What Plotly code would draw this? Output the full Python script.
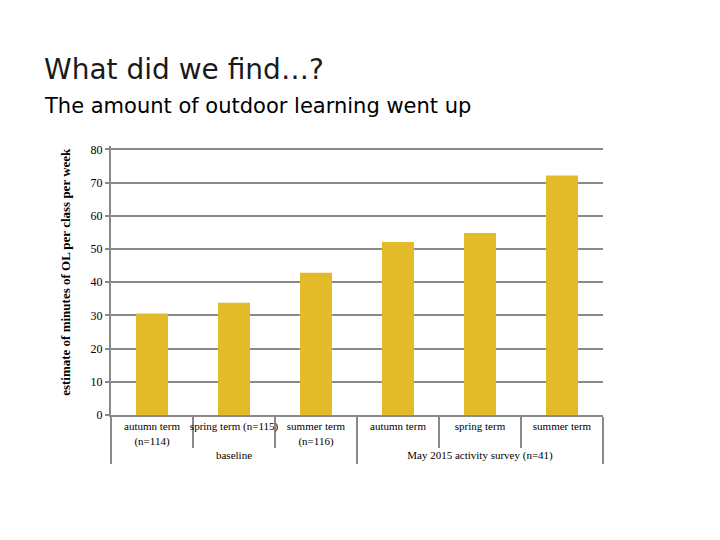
import plotly.graph_objects as go

groups = ["baseline", "baseline", "baseline",
          "May 2015 activity survey (n=41)", "May 2015 activity survey (n=41)", "May 2015 activity survey (n=41)"]
terms = ["autumn term<br>(n=114)", "spring term (n=115)", "summer term<br>(n=116)",
         "autumn term", "spring term", "summer term"]
values = [30.6, 33.8, 42.8, 52.1, 54.8, 72.1]
y_ticks = [0, 10, 20, 30, 40, 50, 60, 70, 80]

serif = "Liberation Serif, DejaVu Serif, serif"
sans = "DejaVu Sans, Liberation Sans, sans-serif"
grid = "#8a8a8a"

fig = go.Figure(go.Bar(
    x=[groups, terms], y=values,
    marker=dict(color="#E3BB2A", line=dict(width=0)),
    width=0.39,
))

fig.update_layout(
    width=720, height=540,
    paper_bgcolor="white", plot_bgcolor="white",
    margin=dict(l=103, r=125, t=138, b=133, autoexpand=False),
    showlegend=False,
    font=dict(family=serif, color="black"),
    annotations=[
        dict(text="What did we find…?", xref="paper", yref="paper",
             x=-0.140, y=1.2156, xanchor="left", yanchor="bottom", showarrow=False,
             font=dict(family=sans, size=28, color="#1a1a1a")),
        dict(text="The amount of outdoor learning went up", xref="paper", yref="paper",
             x=-0.140, y=1.0967, xanchor="left", yanchor="bottom", showarrow=False,
             font=dict(family=sans, size=21, color="black")),
        dict(text="<b>estimate of minutes of OL per class per week</b>", xref="paper", yref="paper",
             x=-0.0915, y=0.532, xanchor="center", yanchor="middle", showarrow=False,
             textangle=-90, font=dict(family=serif, size=13, color="black")),
    ],
)

fig.update_yaxes(
    range=[0, 81], tickvals=y_ticks, showgrid=True, gridcolor=grid, gridwidth=2,
    showline=True, linecolor=grid, linewidth=2,
    ticks="outside", ticklen=4, tickcolor=grid, tickwidth=2,
    tickfont=dict(family=serif, size=12), zeroline=False, automargin=False,
)
fig.update_xaxes(
    type="multicategory", showline=True, linecolor=grid, linewidth=2,
    ticks="outside", ticklen=31, tickcolor=grid, tickwidth=2, tickangle=0,
    showdividers=True, dividercolor=grid, dividerwidth=2, automargin=False,
    tickfont=dict(family=serif, size=11),
)

fig.write_html("out.html")
